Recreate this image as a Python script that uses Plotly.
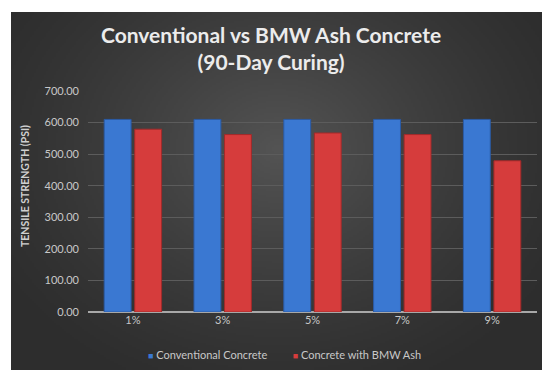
import base64
import struct
import zlib

import numpy as np
import plotly.graph_objects as go

# ---- data ----
categories = ["1%", "3%", "5%", "7%", "9%"]
conventional = [610, 610, 610, 610, 610]
bmw_ash = [579, 562, 567, 562, 479]
y_ticks = [0, 100, 200, 300, 400, 500, 600, 700]
series_names = ["Conventional Concrete", "Concrete with BMW Ash"]
series_colors = ["#3a78d2", "#d63c3c"]
edge_colors = ["#2a5ba6", "#a22a2a"]

W, H = 542, 370
# plot area in pixels
PL, PR, PT, PB = 88, 537, 91, 312


def png_data_uri(rgb):
    """Encode an (h, w, 3) uint8 array as a PNG data URI."""
    h, w, _ = rgb.shape
    raw = b"".join(b"\x00" + rgb[i].tobytes() for i in range(h))

    def chunk(tag, data):
        c = struct.pack(">I", len(data)) + tag + data
        return c + struct.pack(">I", zlib.crc32(tag + data) & 0xFFFFFFFF)

    png = b"\x89PNG\r\n\x1a\n"
    png += chunk(b"IHDR", struct.pack(">IIBBBBB", w, h, 8, 2, 0, 0, 0))
    png += chunk(b"IDAT", zlib.compress(raw, 9))
    png += chunk(b"IEND", b"")
    return "data:image/png;base64," + base64.b64encode(png).decode()


# radial dark-grey backdrop of the chart panel
gw, gh = 266, 179
yy, xx = np.mgrid[0:gh, 0:gw]
d = np.sqrt(((xx / gw - 0.5) / 0.62) ** 2 + ((yy / gh - 0.38) / 0.75) ** 2)
t = np.clip(1 - d, 0, 1) ** 1.3
level = (45 + (84 - 45) * t).astype(np.uint8)
grad = np.stack([level, level, level], axis=-1)


def px_x(p):
    return (p - PL) / (PR - PL)


def px_y(p):
    return (PB - p) / (PB - PT)


fig = go.Figure()
for name, vals, col, edge in zip(series_names, [conventional, bmw_ash],
                                 series_colors, edge_colors):
    fig.add_trace(go.Bar(
        x=categories, y=vals, name=name,
        marker=dict(color=col, line=dict(color=edge, width=1)),
    ))

fig.add_layout_image(dict(
    source=png_data_uri(grad), xref="paper", yref="paper",
    x=px_x(11), y=px_y(12), sizex=px_x(W) - px_x(11), sizey=px_y(12) - px_y(H),
    xanchor="left", yanchor="top", sizing="stretch", layer="below",
))

# chart title
fig.add_annotation(
    text="<b>Conventional vs BMW Ash Concrete<br>(90-Day Curing)</b>",
    xref="paper", yref="paper", x=px_x(271), y=px_y(48),
    xanchor="center", yanchor="middle", showarrow=False,
    font=dict(size=21, color="#ececec", family="Lato, 'Open Sans', sans-serif"),
)

# y-axis title
fig.add_annotation(
    text="<b>TENSILE STRENGTH (PSI)</b>", textangle=-90,
    xref="paper", yref="paper", x=px_x(25), y=px_y(186),
    xanchor="center", yanchor="middle", showarrow=False,
    font=dict(size=10.5, color="#d0d0d0"),
)

# legend row
legend_text = ("&nbsp;" * 9).join(
    f"<span style='color:{c}; font-size:9px'>■</span> {n}"
    for n, c in zip(series_names, series_colors)
)
fig.add_annotation(
    text=legend_text, xref="paper", yref="paper",
    x=px_x(284), y=px_y(354), xanchor="center", yanchor="middle",
    showarrow=False, font=dict(size=11, color="#c8c8c8"),
)

fig.update_layout(
    width=W, height=H,
    margin=dict(l=PL, r=W - PR, t=PT, b=H - PB),
    paper_bgcolor="white", plot_bgcolor="rgba(0,0,0,0)",
    barmode="group", bargap=0.32, bargroupgap=0.12,
    font=dict(family="Lato, 'Open Sans', sans-serif", color="#c8c8c8"),
    showlegend=False,
)

fig.update_xaxes(
    showgrid=False, showline=False, ticks="", zeroline=False,
    tickfont=dict(size=11, color="#c8c8c8"),
)
fig.update_yaxes(
    range=[0, 700], tickvals=y_ticks,
    ticktext=[f"{v:.2f}" for v in y_ticks],
    showgrid=True, gridcolor="#5c5c5c", gridwidth=1,
    zeroline=True, zerolinecolor="#a8a8a8", zerolinewidth=2,
    showline=False, ticks="", ticklabelstandoff=8,
    tickfont=dict(size=11, color="#c8c8c8"),
)

fig.write_html("out.html")
